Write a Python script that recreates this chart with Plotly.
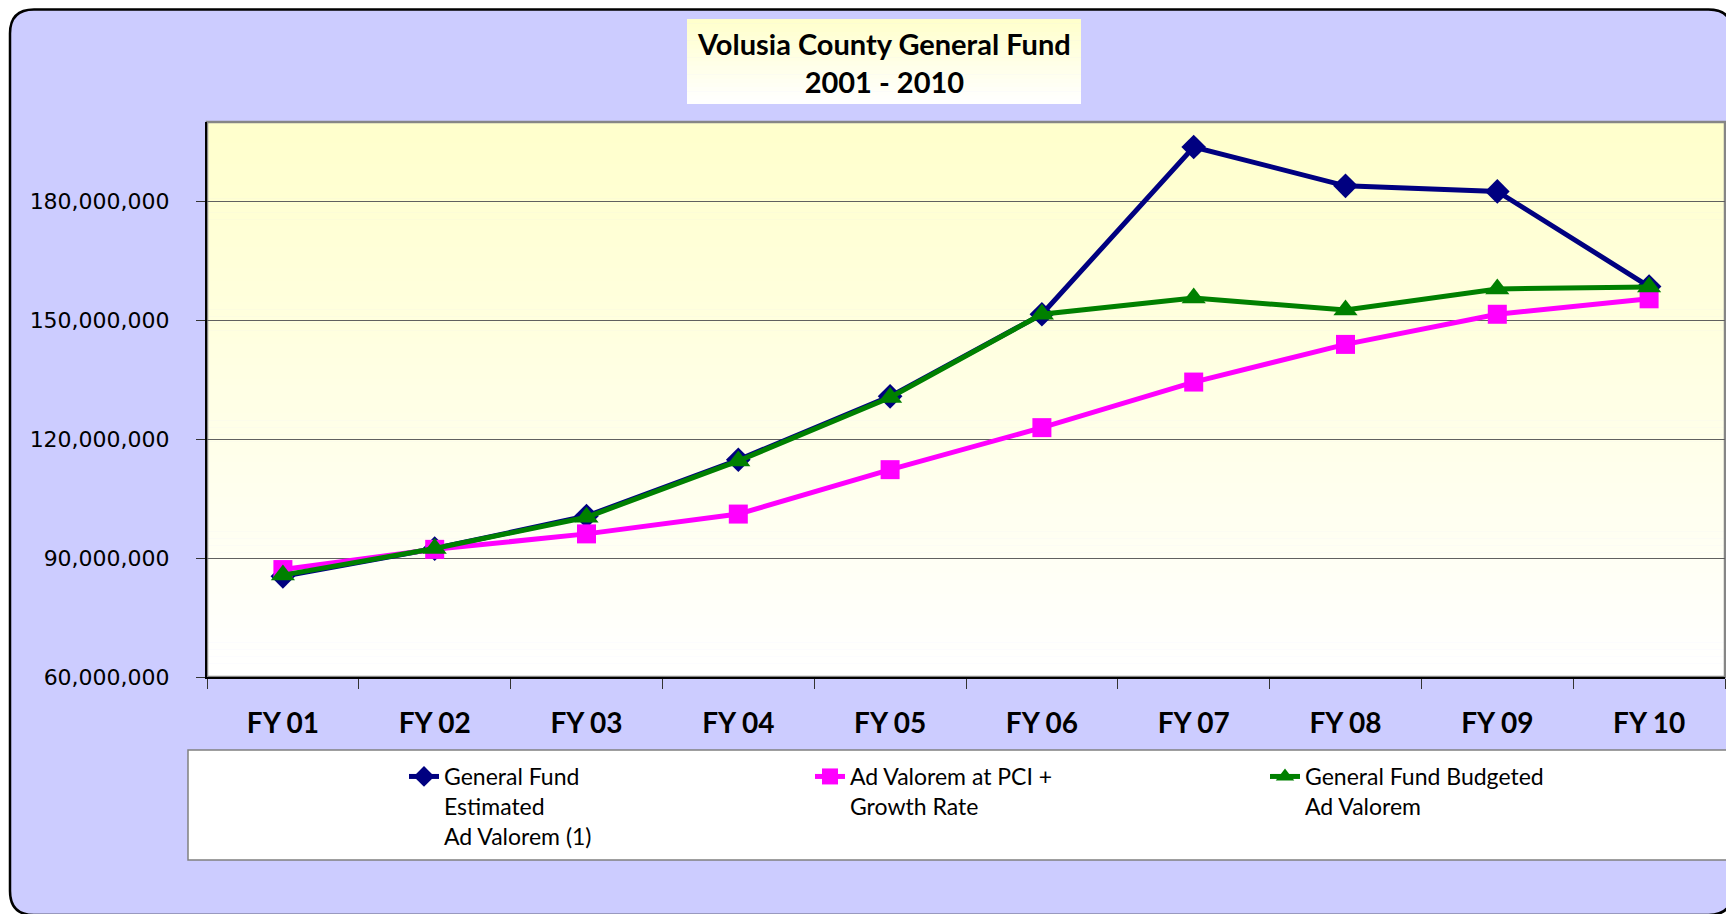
import plotly.graph_objects as go

categories = ["FY 01", "FY 02", "FY 03", "FY 04", "FY 05", "FY 06", "FY 07", "FY 08", "FY 09", "FY 10"]
estimated = [85.4e6, 92.4e6, 100.6e6, 114.8e6, 130.8e6, 151.5e6, 193.7e6, 183.9e6, 182.5e6, 158.5e6]
pci_growth = [87.1e6, 92.2e6, 96.1e6, 101.1e6, 112.3e6, 122.9e6, 134.4e6, 143.9e6, 151.5e6, 155.4e6]
budgeted = [85.7e6, 92.4e6, 100.3e6, 114.5e6, 130.5e6, 151.5e6, 155.6e6, 152.6e6, 157.9e6, 158.4e6]
y_ticks = [60e6, 90e6, 120e6, 150e6, 180e6]
y_tick_labels = ["60,000,000", "90,000,000", "120,000,000", "150,000,000", "180,000,000"]

# the page body has an 8px margin, so the figure is drawn from page pixel 8
OFF = 8
W, H = 1734 - OFF, 914 - OFF
PL, PR, PT, PB = 207, 1725, 122, 677   # plot area in page pixels
PW, PH = PR - PL, PB - PT


def xp(px):
    return (px - PL) / PW


def yp(py):
    return (PB - py) / PH


shapes = []

# outer rounded frame (page pixels)
x0, x1, y0, y1, r = 10, 1732.5, 9.5, 915, 24
rx, ry = r / PW, r / PH
path = (
    f"M{xp(x0)},{yp(y0) - ry} "
    f"L{xp(x0)},{yp(y1) + ry} Q{xp(x0)},{yp(y1)} {xp(x0) + rx},{yp(y1)} "
    f"L{xp(x1) - rx},{yp(y1)} Q{xp(x1)},{yp(y1)} {xp(x1)},{yp(y1) + ry} "
    f"L{xp(x1)},{yp(y0) - ry} Q{xp(x1)},{yp(y0)} {xp(x1) - rx},{yp(y0)} "
    f"L{xp(x0) + rx},{yp(y0)} Q{xp(x0)},{yp(y0)} {xp(x0)},{yp(y0) - ry} Z"
)
shapes.append(dict(type="path", xref="paper", yref="paper", path=path,
                   fillcolor="#CCCCFF", line=dict(color="black", width=2.5), layer="below"))


def gradient(xa, xb, ya, yb, n):
    out = []
    for i in range(n):
        t = i / (n - 1)
        c = int(round(204 + (255 - 204) * t))
        ta = ya + (yb - ya) * i / n
        tb = ya + (yb - ya) * (i + 1) / n + 0.5
        out.append(dict(type="rect", xref="paper", yref="paper",
                        x0=xp(xa), x1=xp(xb), y0=yp(ta), y1=yp(min(tb, yb)),
                        fillcolor=f"rgb(255,255,{c})", line=dict(width=0), layer="below"))
    return out


shapes += gradient(PL, PR, PT, PB, 80)
shapes += gradient(687, 1081, 19, 104, 20)

shapes.append(dict(type="rect", xref="paper", yref="paper", x0=0, x1=1, y0=0, y1=1,
                   line=dict(color="#868686", width=2.5), layer="below"))

shapes.append(dict(type="rect", xref="paper", yref="paper",
                   x0=xp(188), x1=xp(1732), y0=yp(750), y1=yp(860),
                   fillcolor="white", line=dict(color="#808080", width=1.5), layer="below"))

fig = go.Figure()
fig.add_trace(go.Scatter(
    x=categories, y=estimated, mode="lines+markers",
    name="General Fund<br>Estimated<br>Ad Valorem (1)",
    line=dict(color="#000080", width=5),
    marker=dict(symbol="diamond", size=19, color="#000080"),
    legend="legend"))
fig.add_trace(go.Scatter(
    x=categories, y=pci_growth, mode="lines+markers",
    name="Ad Valorem at PCI +<br>Growth Rate",
    line=dict(color="#FF00FF", width=5),
    marker=dict(symbol="square", size=19, color="#FF00FF"),
    legend="legend2"))
fig.add_trace(go.Scatter(
    x=categories, y=budgeted, mode="lines+markers",
    name="General Fund Budgeted<br>Ad Valorem",
    line=dict(color="#008000", width=5),
    marker=dict(symbol="triangle-up", size=21, color="#008000"),
    legend="legend3"))

leg_font = dict(family="Lato, Carlito, Calibri, sans-serif", size=23, color="black")
leg_common = dict(font=leg_font, bgcolor="rgba(0,0,0,0)", borderwidth=0,
                  valign="top", xanchor="left", yanchor="top", y=yp(755),
                  itemclick=False, itemdoubleclick=False)

fig.update_layout(
    width=W, height=H,
    margin=dict(l=PL - OFF, r=(W + OFF) - PR, t=PT - OFF, b=(H + OFF) - PB, pad=0),
    paper_bgcolor="white",
    plot_bgcolor="rgba(0,0,0,0)",
    shapes=shapes,
    showlegend=True,
    legend=dict(x=xp(404), **leg_common),
    legend2=dict(x=xp(810), **leg_common),
    legend3=dict(x=xp(1265), **leg_common),
    annotations=[dict(
        xref="paper", yref="paper", x=xp(884), y=yp(62), xanchor="center", yanchor="middle",
        text="<b>Volusia County General Fund<br>2001 - 2010</b>", showarrow=False,
        font=dict(family="Lato, Carlito, Calibri, sans-serif", size=29, color="black"),
        align="center")],
    xaxis=dict(
        type="category", range=[-0.5, 9.5], tickson="boundaries",
        ticks="outside", ticklen=10, tickcolor="#333333", tickwidth=1,
        showgrid=False, showline=True, linecolor="black", linewidth=2,
        tickfont=dict(family="Lato, Carlito, Calibri, sans-serif", size=28, color="black", weight="bold"),
        ticklabelstandoff=20, zeroline=False, fixedrange=True),
    yaxis=dict(
        range=[60e6, 200e6], tickvals=y_ticks, ticktext=y_tick_labels,
        ticks="outside", ticklen=9, tickcolor="#333333", tickwidth=1,
        showgrid=True, gridcolor="#606060", gridwidth=1,
        showline=True, linecolor="black", linewidth=2, zeroline=False,
        tickfont=dict(family="Verdana, DejaVu Sans, sans-serif", size=22, color="black"),
        ticklabelstandoff=22, fixedrange=True),
)

fig.write_html("out.html")
